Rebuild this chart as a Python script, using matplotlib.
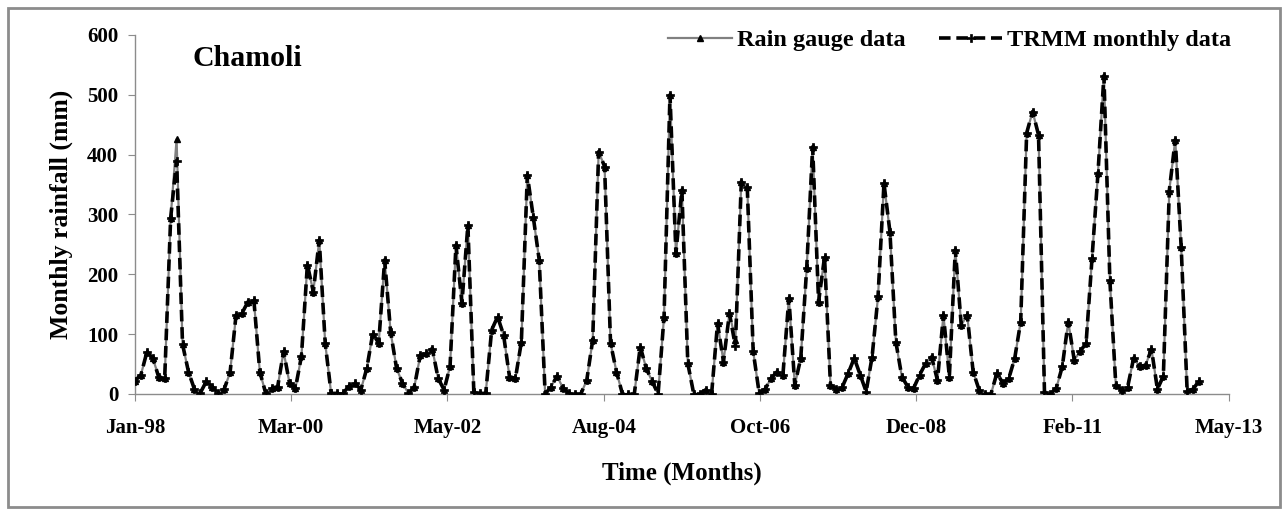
import numpy as np
import matplotlib
matplotlib.use("Agg")
import matplotlib.pyplot as plt
from matplotlib.patches import Rectangle

# Monthly rainfall at Chamoli, Jan 1998 - Dec 2012 (mm), one row per year
rain_gauge = [
    22, 32, 70, 60, 28, 27, 294, 426, 83, 37, 8, 2,        # 1998
    21, 12, 1, 8, 36, 132, 135, 154, 157, 37, 1, 10,       # 1999
    12, 71, 18, 10, 63, 216, 171, 257, 85, 1, 1, 1,        # 2000
    13, 18, 7, 43, 101, 85, 224, 104, 43, 18, 1, 12,       # 2001
    65, 68, 76, 26, 7, 46, 249, 152, 282, 4, 1, 1,         # 2002
    107, 129, 99, 29, 26, 87, 366, 296, 224, 0, 12, 30,    # 2003
    10, 1, 0, 0, 23, 90, 405, 380, 85, 37, 0, 0,           # 2004
    0, 79, 43, 21, 0, 129, 500, 235, 341, 51, 0, 0,        # 2005
    7, 0, 118, 54, 135, 90, 355, 346, 71, 2, 8, 26,        # 2006
    37, 32, 160, 15, 60, 210, 413, 154, 229, 15, 8, 12,    # 2007
    35, 60, 32, 4, 62, 163, 352, 271, 87, 29, 12, 10,      # 2008
    32, 51, 62, 23, 132, 29, 241, 115, 132, 37, 7, 0,      # 2009
    0, 35, 18, 26, 60, 121, 436, 472, 433, 3, 0, 10,       # 2010
    46, 121, 57, 71, 85, 227, 369, 532, 190, 15, 7, 12,    # 2011
    60, 46, 48, 75, 8, 30, 340, 425, 245, 5, 8, 22,        # 2012
]

trmm_monthly = [
    22, 32, 70, 60, 28, 27, 294, 390, 83, 37, 8, 2,        # 1998
    21, 12, 1, 8, 36, 132, 135, 154, 157, 37, 1, 10,       # 1999
    12, 71, 18, 10, 63, 216, 171, 257, 85, 1, 1, 1,        # 2000
    13, 18, 7, 43, 101, 85, 224, 104, 43, 18, 1, 12,       # 2001
    65, 68, 76, 26, 7, 46, 249, 152, 282, 4, 1, 1,         # 2002
    107, 129, 99, 29, 26, 87, 366, 296, 224, 0, 12, 30,    # 2003
    10, 1, 0, 0, 23, 90, 405, 380, 85, 37, 0, 0,           # 2004
    0, 79, 43, 21, 0, 129, 500, 235, 341, 51, 0, 0,        # 2005
    7, 0, 118, 54, 135, 80, 355, 346, 71, 2, 8, 26,        # 2006
    37, 32, 160, 15, 60, 210, 413, 154, 229, 15, 8, 12,    # 2007
    35, 60, 32, 4, 62, 163, 352, 271, 87, 29, 12, 10,      # 2008
    32, 51, 62, 23, 132, 29, 241, 115, 132, 37, 7, 0,      # 2009
    0, 35, 18, 26, 60, 121, 436, 472, 433, 3, 0, 10,       # 2010
    46, 121, 57, 71, 85, 227, 369, 532, 190, 15, 7, 12,    # 2011
    60, 46, 48, 75, 8, 30, 340, 425, 245, 5, 8, 22,        # 2012
]

tick_labels = ["Jan-98", "Mar-00", "May-02", "Aug-04", "Oct-06", "Dec-08", "Feb-11", "May-13"]
y_ticks = [0, 100, 200, 300, 400, 500, 600]

months = np.arange(len(rain_gauge))  # months since Jan-98
x_max = 184  # May-13

plt.rcParams['font.family'] = ['Liberation Serif', 'DejaVu Serif']
plt.rcParams['font.weight'] = 'bold'

fig = plt.figure(figsize=(12.88, 5.14), dpi=100)
ax = fig.add_axes([0.1048, 0.2335, 0.8492, 0.6985])

ax.plot(months, rain_gauge, color='#808080', lw=1.6, marker='^', ms=5,
        mfc='black', mec='black', label='Rain gauge data', zorder=2)
ax.plot(months, trmm_monthly, color='black', lw=2.6, ls=(0, (3.2, 1.6)),
        marker='P', ms=5.5, mfc='black', mec='black', mew=0.5,
        label='TRMM monthly data', zorder=3)

ax.set_xlim(0, x_max)
ax.set_ylim(0, 600)
ax.set_xticks(np.linspace(0, x_max, len(tick_labels)))
ax.set_xticklabels(tick_labels)
ax.set_yticks(y_ticks)

for s in ['top', 'right']:
    ax.spines[s].set_visible(False)
for s in ['left', 'bottom']:
    ax.spines[s].set_color('#8c8c8c')
    ax.spines[s].set_linewidth(1.0)
ax.tick_params(axis='both', colors='#8c8c8c', labelcolor='black',
               labelsize=15, length=5, direction='out')
ax.tick_params(axis='x', pad=12)
ax.tick_params(axis='y', pad=7)

ax.set_xlabel('Time (Months)', fontsize=18, fontweight='bold', labelpad=17)
ax.set_ylabel('Monthly rainfall (mm)', fontsize=18.5, fontweight='bold', labelpad=10)

ax.text(0.053, 0.935, 'Chamoli', transform=ax.transAxes, fontsize=21.5,
        fontweight='bold', ha='left', va='center')

fig.legend(loc='upper right', bbox_to_anchor=(0.973, 0.986), ncol=2,
           frameon=False, handlelength=2.6, columnspacing=1.4,
           handletextpad=0.2, prop={'weight': 'bold', 'size': 17.5})

# outer chart border
fig.patches.append(Rectangle((0.006, 0.014), 0.988, 0.97, transform=fig.transFigure,
                             fill=False, edgecolor='#8c8c8c', lw=2))

fig.savefig('out.png', dpi=100)
